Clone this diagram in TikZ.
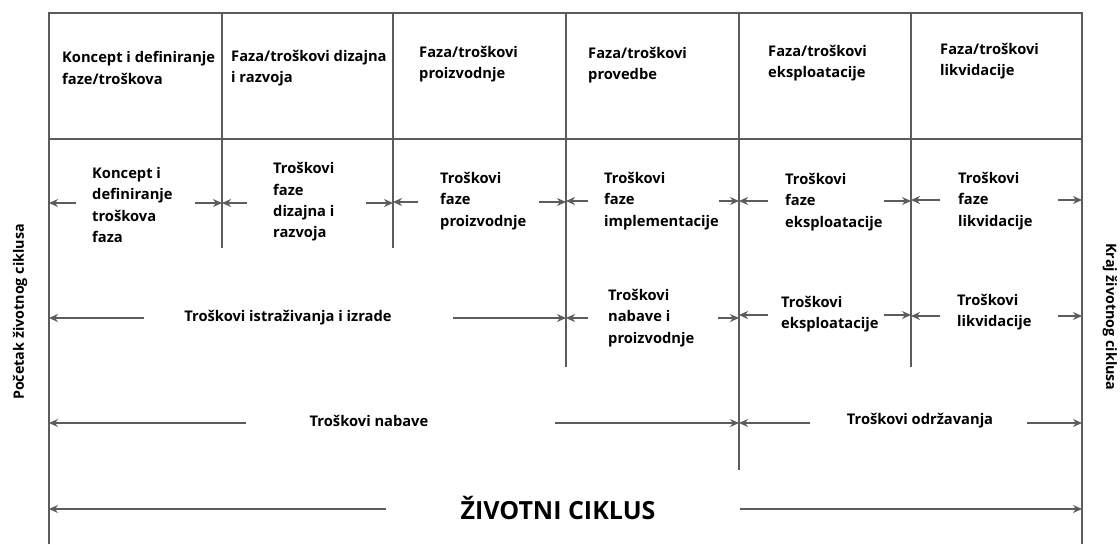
\documentclass[tikz,border=0pt]{standalone}
\usepackage{fontspec}
\setmainfont{Open Sans}
\usetikzlibrary{arrows.meta,positioning}
\definecolor{rule}{HTML}{5C5C5C}

\tikzset{
  frame/.style={draw=rule,line width=1.4pt},
  arr/.style={draw=rule,line width=1.4pt,-{Stealth[length=9pt,width=8pt]}},
  head/.style={anchor=west,align=left,inner sep=0pt,font=\bfseries\fontsize{14.7}{21.3}\selectfont},
  side/.style={inner sep=0pt,font=\bfseries\fontsize{14.3}{16}\selectfont},
}

\begin{document}
\begin{tikzpicture}[x=1pt,y=-1pt]
\useasboundingbox (0,0) rectangle (1120,544);

% frame and dividers
\coordinate (d0) at (49,0);
\coordinate (d1) at (222,0);
\coordinate (d2) at (393,0);
\coordinate (d3) at (566,0);
\coordinate (d4) at (739,0);
\coordinate (d5) at (911,0);
\coordinate (d6) at (1082,0);
\draw[frame] (49,544) -- (49,13) -- (1082,13) -- (1082,544);
\draw[frame] (49,139) -- (1082,139);
\draw[frame] (222,13) -- (222,248);
\draw[frame] (393,13) -- (393,248);
\draw[frame] (566,13) -- (566,367);
\draw[frame] (739,13) -- (739,470);
\draw[frame] (911,13) -- (911,367);

% phases
\node[head] (h1) at (62,68) {Koncept i definiranje\\faze/troškova};
\node[head] (h2) at (231,68) {Faza/troškovi dizajna\\i razvoja};
\node[head] (h3) at (419,64) {Faza/troškovi\\proizvodnje};
\node[head] (h4) at (588,65) {Faza/troškovi\\provedbe};
\node[head] (h5) at (768,63) {Faza/troškovi\\eksploatacije};
\node[head] (h6) at (940,61) {Faza/troškovi\\likvidacije};

% costs per phase
\node[head] (k1) at (92,205) {Koncept i\\definiranje\\troškova\\faza};
\node[head] (k2) at (273,202) {Troškovi\\faze\\dizajna i\\razvoja};
\node[head] (k3) at (440,201) {Troškovi\\faze\\proizvodnje};
\node[head] (k4) at (604,201) {Troškovi\\faze\\implementacije};
\node[head] (k5) at (785,202) {Troškovi\\faze\\eksploatacije};
\node[head] (k6) at (958,201) {Troškovi\\faze\\likvidacije};

\coordinate (a1l) at (76,203);  \coordinate (a1r) at (195,203);
\coordinate (a2l) at (247,203); \coordinate (a2r) at (366,203);
\coordinate (a3l) at (418,202); \coordinate (a3r) at (539,202);
\coordinate (a4l) at (588,201); \coordinate (a4r) at (719,201);
\coordinate (a5l) at (768,201); \coordinate (a5r) at (884,201);
\coordinate (a6l) at (940,200); \coordinate (a6r) at (1058,200);
\draw[arr] (a1l) -- (a1l -| d0); \draw[arr] (a1r) -- (a1r -| d1);
\draw[arr] (a2l) -- (a2l -| d1); \draw[arr] (a2r) -- (a2r -| d2);
\draw[arr] (a3l) -- (a3l -| d2); \draw[arr] (a3r) -- (a3r -| d3);
\draw[arr] (a4l) -- (a4l -| d3); \draw[arr] (a4r) -- (a4r -| d4);
\draw[arr] (a5l) -- (a5l -| d4); \draw[arr] (a5r) -- (a5r -| d5);
\draw[arr] (a6l) -- (a6l -| d5); \draw[arr] (a6r) -- (a6r -| d6);

% grouped costs
\node[head,anchor=center] (r1) at (288,318) {Troškovi istraživanja i izrade};
\node[head] (p1) at (608,318) {Troškovi\\nabave i\\proizvodnje};
\node[head] (e1) at (781,314) {Troškovi\\eksploatacije};
\node[head] (l1) at (957,312) {Troškovi\\likvidacije};

\coordinate (b1l) at (144,318); \coordinate (b1r) at (453,318);
\coordinate (b2l) at (588,318); \coordinate (b2r) at (718,318);
\coordinate (b3l) at (768,315); \coordinate (b3r) at (884,315);
\coordinate (b4l) at (940,316); \coordinate (b4r) at (1058,316);
\draw[arr] (b1l) -- (b1l -| d0); \draw[arr] (b1r) -- (b1r -| d3);
\draw[arr] (b2l) -- (b2l -| d3); \draw[arr] (b2r) -- (b2r -| d4);
\draw[arr] (b3l) -- (b3l -| d4); \draw[arr] (b3r) -- (b3r -| d5);
\draw[arr] (b4l) -- (b4l -| d5); \draw[arr] (b4r) -- (b4r -| d6);

\node[head,anchor=center] (n1) at (369,421) {Troškovi nabave};
\node[head,anchor=center] (o1) at (920,421) {Troškovi održavanja};
\coordinate (c1l) at (246,423); \coordinate (c1r) at (555,423);
\coordinate (c2l) at (810,423); \coordinate (c2r) at (1027,423);
\draw[arr] (c1l) -- (c1l -| d0); \draw[arr] (c1r) -- (c1r -| d4);
\draw[arr] (c2l) -- (c2l -| d4); \draw[arr] (c2r) -- (c2r -| d6);

% whole cycle
\node[inner sep=0pt,font=\bfseries\fontsize{25}{28}\selectfont] (life) at (558,508) {ŽIVOTNI CIKLUS};
\coordinate (z1l) at (386,509); \coordinate (z1r) at (740,509);
\draw[arr] (z1l) -- (z1l -| d0); \draw[arr] (z1r) -- (z1r -| d6);

\node[side,rotate=90] (start) at (20,312) {Početak životnog ciklusa};
\node[side,rotate=-90] (end) at (1110,317) {Kraj životnog ciklusa};
\end{tikzpicture}
\end{document}
